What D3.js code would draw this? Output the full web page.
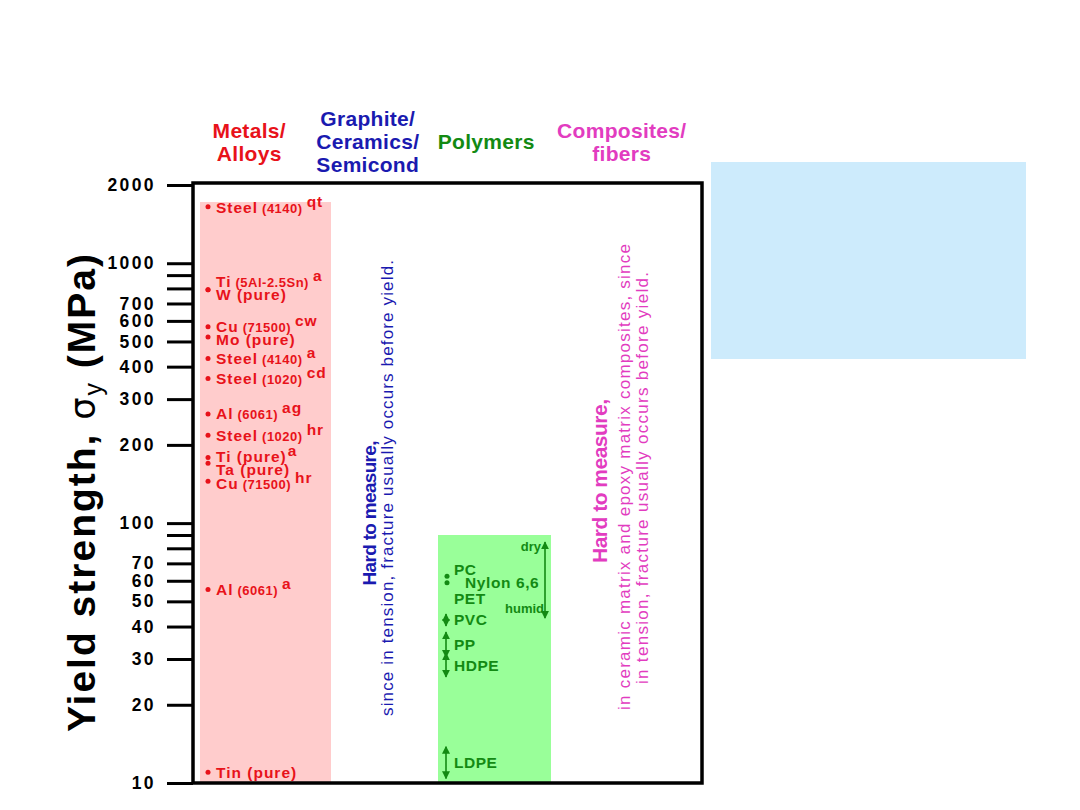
<!DOCTYPE html>
<html><head><meta charset="utf-8">
<script src="https://cdn.jsdelivr.net/npm/d3@7"></script>
<style>
body{margin:0;background:#fff}
svg{display:block}
text{font-family:"Liberation Sans",Arial,Helvetica,sans-serif}
</style>
</head><body><svg id="chart" width="1080" height="810"></svg>
<script>
// ---------------- data ----------------
const categories = ["Metals/Alloys", "Graphite/Ceramics/Semicond", "Polymers", "Composites/fibers"];
const headerLines = [["Metals/", "Alloys"], ["Graphite/", "Ceramics/", "Semicond"], ["Polymers"], ["Composites/", "fibers"]];
const categoryColors = ["#e8121a", "#1a1ab0", "#138a13", "#e23cc0"];
const bandTop = [1720, null, 90, null];           // top of shaded range per category (MPa)
const bandFill = ["#ffcccc", null, "#99ff99", null];

const tickValues = [10, 20, 30, 40, 50, 60, 70, 80, 90, 100, 200, 300, 400, 500, 600, 700, 800, 900, 1000, 2000];
const tickLabels = ["10", "20", "30", "40", "50", "60", "70", "", "", "100", "200", "300", "400", "500", "600", "700", "", "", "1000", "2000"];

const metalNames  = ["Steel", "Ti", "W (pure)", "Cu", "Mo (pure)", "Steel", "Steel", "Al", "Steel", "Ti (pure)", "Ta (pure)", "Cu", "Al", "Tin (pure)"];
const metalGrades = ["(4140)", "(5Al-2.5Sn)", "", "(71500)", "", "(4140)", "(1020)", "(6061)", "(1020)", "", "", "(71500)", "(6061)", ""];
const metalTreat  = ["qt", "a", "", "cw", "", "a", "cd", "ag", "hr", "a", "", "hr", "a", ""];
const metalValues = [1650, 790, 790, 570, 520, 430, 360, 263, 218, 179, 170, 145, 55.5, 11];

const polymerNames = ["PC", "PET", "PVC", "PP", "HDPE", "LDPE"];
const polymerLow   = [62.5, 59, 40.2, 30.5, 25.6, 10.4];
const polymerHigh  = [62.5, 59, 44.7, 38.1, 31.6, 13.8];
const nylonName = "Nylon 6,6";
const nylonRange = [43.1, 84.6];   // humid, dry
const nylonEnds = ["humid", "dry"];

const yLabelParts = ["Yield strength, ", "σ", "y", " (MPa)"];
const graphiteNote = ["Hard to measure,", "since in tension, fracture usually occurs before yield."];
const compositeNote = ["Hard to measure,", "in ceramic matrix and epoxy matrix composites, since", "in tension, fracture usually occurs before yield."];

// ---------------- layout / style ----------------
const svg = d3.select("#chart");
const plot = {left: 193, right: 702, top: 183, bottom: 783};
const y = d3.scaleLog().domain([10, 2000]).range([783, 185]);
const x = d3.scaleBand().domain(categories).range([185, 683]).padding(0);
const bw = x.bandwidth();
const rectInset = [{l: 15, r: -21.5}, null, {l: 4, r: 7.5}, null];
const headerShift = [2, -4, -10, 1];
const labelNudge = [1, -8, 5, 0, 2, 0, 0, 0, 0, -1, 6, 2, 0, 0];
const polyLabelNudge = [-7, 16, 0, 0, 0, 0];

// shaded ranges
categories.forEach((c, i) => {
  if (bandTop[i] == null) return;
  svg.append("rect")
    .attr("x", x(c) + rectInset[i].l)
    .attr("y", y(bandTop[i]))
    .attr("width", bw - rectInset[i].l - rectInset[i].r)
    .attr("height", y(10) - y(bandTop[i]))
    .attr("fill", bandFill[i]);
});

// blank callout box at right
svg.append("rect").attr("x", 711).attr("y", 162).attr("width", 315).attr("height", 197).attr("fill", "#cdebfc");

// headers
categories.forEach((c, i) => {
  const lines = headerLines[i];
  const cx = x(c) + bw / 2 + headerShift[i];
  const t = svg.append("text").attr("text-anchor", "middle")
    .attr("fill", categoryColors[i]).attr("font-size", 21).attr("font-weight", "bold").attr("letter-spacing", 0.3);
  lines.forEach((l, k) => {
    t.append("tspan").attr("x", cx).attr("y", 149 + (k - (lines.length - 1) / 2) * 23).text(l);
  });
});

// y axis
const axis = d3.axisLeft(y).tickValues(tickValues)
  .tickFormat((d, i) => tickLabels[i]).tickSize(26).tickPadding(11);
const ag = svg.append("g").attr("transform", `translate(${plot.left},0)`).call(axis);
ag.select(".domain").remove();
ag.selectAll(".tick line").attr("stroke", "#000").attr("stroke-width", 3);
ag.selectAll(".tick text").attr("fill", "#000").attr("font-size", 17.5).attr("font-weight", "bold")
  .attr("letter-spacing", 2.4).attr("font-family", '"Liberation Sans",Arial,sans-serif');

// y axis title
const yl = svg.append("text").attr("transform", `translate(95,${492}) rotate(-90)`)
  .attr("text-anchor", "middle").attr("font-size", 39).attr("font-weight", "bold").attr("fill", "#000")
  .attr("letter-spacing", 2);
yl.append("tspan").text(yLabelParts[0]);
yl.append("tspan").attr("font-weight", "normal").attr("font-family", '"DejaVu Sans",sans-serif').attr("font-size", 35).text(yLabelParts[1]);
yl.append("tspan").attr("font-weight", "normal").attr("font-size", 25).attr("dy", 7).text(yLabelParts[2]);
yl.append("tspan").attr("dy", -7).text(yLabelParts[3]);

// metals
const mx = x(categories[0]);
const mcol = categoryColors[0];
metalValues.forEach((v, i) => {
  svg.append("circle").attr("cx", mx + 23).attr("cy", y(v)).attr("r", 2.5).attr("fill", mcol);
  const t = svg.append("text").attr("x", mx + 31).attr("y", y(v) + 5.5 + labelNudge[i])
    .attr("fill", mcol).attr("font-weight", "bold").attr("font-size", 15.5).attr("letter-spacing", 1);
  t.append("tspan").text(metalNames[i]);
  if (metalGrades[i]) t.append("tspan").attr("font-size", 13).attr("letter-spacing", 0.5).attr("dx", 4).text(metalGrades[i]);
  if (metalTreat[i]) t.append("tspan").attr("dy", -6).attr("dx", metalGrades[i] ? 4 : 1).text(metalTreat[i]);
});

// polymers
const px = x(categories[2]);
const pcol = categoryColors[2];
const defs = svg.append("defs");
["s", "e"].forEach(k => {
  defs.append("marker").attr("id", "arr" + k).attr("viewBox", "0 0 10 10").attr("refX", 9).attr("refY", 5)
    .attr("markerWidth", 5).attr("markerHeight", 5).attr("orient", "auto-start-reverse")
    .append("path").attr("d", "M0,0 L10,5 L0,10 z").attr("fill", pcol);
});
polymerNames.forEach((n, i) => {
  const lo = polymerLow[i], hi = polymerHigh[i];
  if (lo === hi) {
    svg.append("circle").attr("cx", px + 13).attr("cy", y(lo)).attr("r", 2.5).attr("fill", pcol);
  } else {
    svg.append("line").attr("x1", px + 12).attr("x2", px + 12).attr("y1", y(hi)).attr("y2", y(lo))
      .attr("stroke", pcol).attr("stroke-width", 1.6)
      .attr("marker-start", "url(#arrs)").attr("marker-end", "url(#arre)");
  }
  const mid = (y(lo) + y(hi)) / 2;
  svg.append("text").attr("x", px + 20).attr("y", mid + 5.5 + polyLabelNudge[i])
    .attr("fill", pcol).attr("font-weight", "bold").attr("font-size", 15.5).attr("letter-spacing", 0.5).text(n);
});
// nylon
svg.append("line").attr("x1", px + 111).attr("x2", px + 111).attr("y1", y(nylonRange[1])).attr("y2", y(nylonRange[0]))
  .attr("stroke", pcol).attr("stroke-width", 1.6)
  .attr("marker-start", "url(#arrs)").attr("marker-end", "url(#arre)");
svg.append("text").attr("x", px + 31).attr("y", y(59) + 5.5).attr("fill", pcol).attr("font-weight", "bold")
  .attr("font-size", 15.5).attr("letter-spacing", 0.6).text(nylonName);
svg.append("text").attr("x", px + 107).attr("y", y(nylonRange[1]) + 9).attr("text-anchor", "end")
  .attr("fill", pcol).attr("font-weight", "bold").attr("font-size", 13).text(nylonEnds[1]);
svg.append("text").attr("x", px + 110).attr("y", y(nylonRange[0]) - 5).attr("text-anchor", "end")
  .attr("fill", pcol).attr("font-weight", "bold").attr("font-size", 13).text(nylonEnds[0]);

// rotated notes
function rotText(xb, yc, str, size, weight, color, len) {
  const t = svg.append("text").attr("transform", `translate(${xb},${yc}) rotate(-90)`)
    .attr("text-anchor", "middle").attr("font-size", size).attr("font-weight", weight).attr("fill", color).text(str);
  if (len) t.attr("textLength", len).attr("lengthAdjust", "spacing");
}
const gc = x(categories[1]) + bw / 2;
rotText(gc + 4, 513, graphiteNote[0], 19, "bold", categoryColors[1], 145);
rotText(gc + 21, 488, graphiteNote[1], 17, "normal", categoryColors[1], 456);
const cc = x(categories[3]) + bw / 2;
rotText(cc - 14, 481, compositeNote[0], 21, "bold", categoryColors[3], 164);
rotText(cc + 9, 477, compositeNote[1], 17, "normal", categoryColors[3], 466);
rotText(cc + 27, 478, compositeNote[2], 17, "normal", categoryColors[3], 412);

// plot frame
svg.append("rect").attr("x", plot.left).attr("y", plot.top).attr("width", plot.right - plot.left)
  .attr("height", plot.bottom - plot.top).attr("fill", "none").attr("stroke", "#000").attr("stroke-width", 3.5);
</script>
</body></html>
